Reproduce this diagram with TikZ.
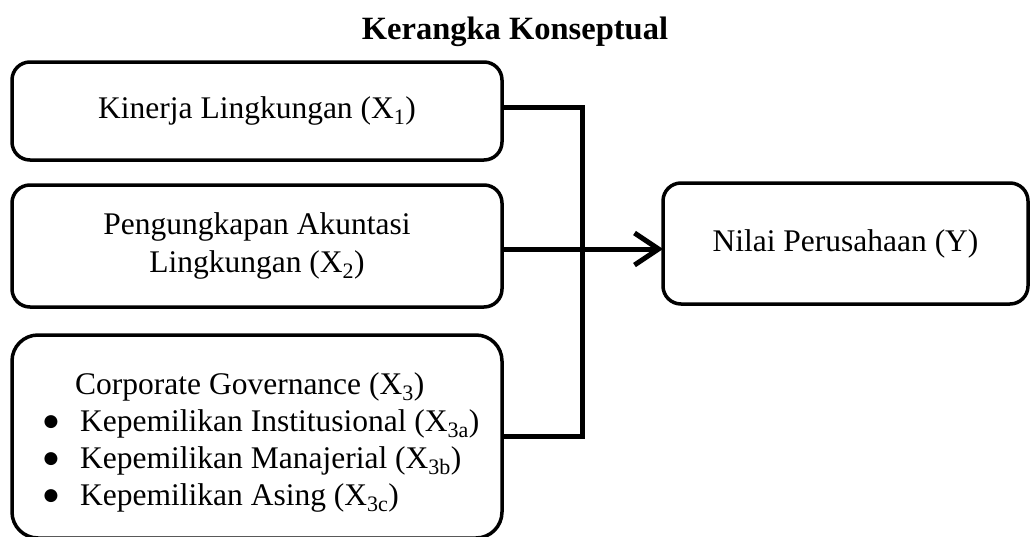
\documentclass[tikz,border=0pt]{standalone}
\usepackage{fontspec}
\setmainfont{Liberation Serif}
\newfontfamily\dotfont{DejaVu Sans}
\usetikzlibrary{arrows.meta}
\begin{document}
\begin{tikzpicture}[x=1pt,y=-1pt,
  fnt/.style={font=\fontsize{31.5}{38}\selectfont},
  box/.style={fnt, draw, line width=3.5pt, rounded corners=18pt, inner sep=0pt, outer sep=0pt, align=center},
  txt/.style={fnt, inner sep=0pt, anchor=base west},
  dot/.style={font=\dotfont\fontsize{17}{18}\selectfont, inner sep=0pt, anchor=base},
  conn/.style={line width=5pt, line join=miter},
]
\useasboundingbox (0,0) rectangle (1031,536);
\node[font=\fontsize{32.5}{39}\selectfont\bfseries, anchor=base, inner sep=0pt] (title) at (515,39) {Kerangka Konseptual};
\node[box, minimum width=490pt, minimum height=98pt] (b1) at (257,111) {Kinerja Lingkungan (X\textsubscript{1})};
\node[box, minimum width=490pt, minimum height=122pt] (b2) at (257,246) {Pengungkapan Akuntasi\\Lingkungan (X\textsubscript{2})};
\node[box, minimum width=490pt, minimum height=203pt, rounded corners=26pt] (b3) at (257,436.5) {};
\node[txt] (c0) at (75,394) {Corporate Governance (X\textsubscript{3})};
\node[dot] (d1) at (51,426) {●};
\node[dot] (d2) at (51,463) {●};
\node[dot] (d3) at (51,500) {●};
\node[txt] (c1) at (80,431) {Kepemilikan Institusional (X\textsubscript{3a})};
\node[txt] (c2) at (80,468) {Kepemilikan Manajerial (X\textsubscript{3b})};
\node[txt] (c3) at (80,505) {Kepemilikan Asing (X\textsubscript{3c})};
\node[box, minimum width=365pt, minimum height=121pt] (yv) at (845.5,243.5) {Nilai Perusahaan (Y)};
\coordinate (jx) at (582,0);
\coordinate (j1) at ([yshift=4pt]b1.east);
\coordinate (jt) at (j1 -| jx);
\coordinate (jb) at (b3.east -| jx);
\draw[conn] (j1) -- (jt) -- (jb) -- (b3.east);
\draw[conn, -{Straight Barb[length=24pt,width=32pt]}] ([yshift=-3pt]b2.east) -- ([yshift=-3pt]b2.east -| yv.west);
\end{tikzpicture}
\end{document}
